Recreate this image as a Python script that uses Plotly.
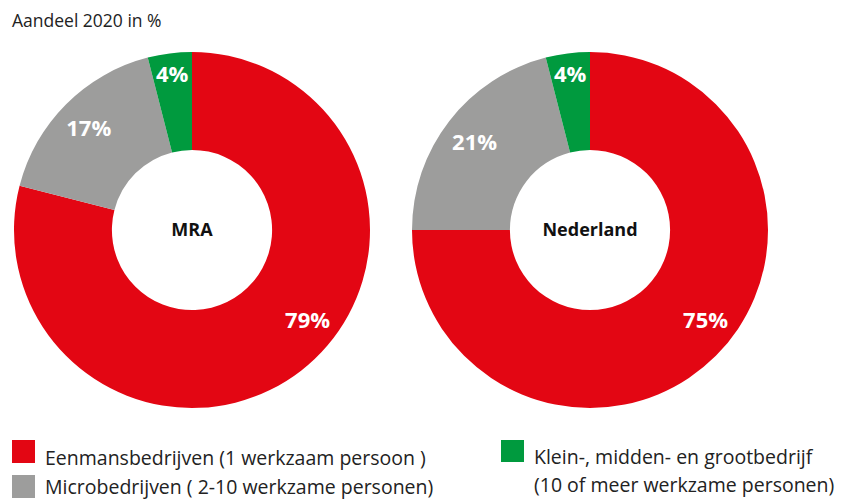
import plotly.graph_objects as go

categories = ["Eenmansbedrijven (1 werkzaam persoon )",
              "Microbedrijven ( 2-10 werkzame personen)",
              "Klein-, midden- en grootbedrijf<br>(10 of meer werkzame personen)"]
mra_values = [79, 17, 4]
nl_values = [75, 21, 4]
regions = ["MRA", "Nederland"]
colors = ["#E30613", "#9D9D9C", "#009A3E"]
title_text = "Aandeel 2020 in %"

W, H = 843, 500
FONT = "Open Sans"
LABEL_ANGLE_FIRST = 127.6  # angle (deg, clockwise from top) where the big slice label sits

fig = go.Figure()
domains = [[14 / W, 370 / W], [412 / W, 768 / W]]
ydom = [1 - 408 / H, 1 - 52 / H]
label_font = dict(family=FONT, size=22, color="white", weight="bold")
for vals, dom, name in zip([mra_values, nl_values], domains, regions):
    # coloured donut
    fig.add_trace(go.Pie(
        labels=categories, values=vals, hole=0.45, sort=False,
        direction="clockwise", rotation=0,
        marker=dict(colors=colors, line=dict(width=0)),
        textposition="none",
        domain=dict(x=dom, y=ydom), showlegend=False, hoverinfo="label+value",
        title=dict(text="<b>" + name + "</b>", position="middle center",
                   font=dict(family=FONT, size=18, color="#111111")),
    ))
    # transparent ring carrying the small-slice labels further out
    fig.add_trace(go.Pie(
        labels=categories, values=vals, hole=0.64, sort=False,
        direction="clockwise", rotation=0,
        marker=dict(colors=["rgba(0,0,0,0)"] * len(vals), line=dict(width=0)),
        texttemplate=[""] + ["%{value}%"] * (len(vals) - 1), textposition="inside",
        insidetextorientation="horizontal", textfont=label_font,
        domain=dict(x=dom, y=ydom), showlegend=False, hoverinfo="skip",
    ))
    # transparent ring carrying the big-slice label
    mid_first = 360 * vals[0] / sum(vals) / 2
    fig.add_trace(go.Pie(
        labels=categories, values=vals, hole=0.64, sort=False,
        direction="clockwise", rotation=LABEL_ANGLE_FIRST - mid_first,
        marker=dict(colors=["rgba(0,0,0,0)"] * len(vals), line=dict(width=0)),
        texttemplate=["%{value}%"] + [""] * (len(vals) - 1), textposition="inside",
        insidetextorientation="horizontal", textfont=label_font,
        domain=dict(x=dom, y=ydom), showlegend=False, hoverinfo="skip",
    ))

annotations = [dict(text=title_text, x=10 / W, y=1 - 20 / H, xref="paper", yref="paper",
                    xanchor="left", yanchor="middle", showarrow=False,
                    font=dict(family=FONT, size=17.5, color="#222222"))]
shapes = []
# (square x0, square y0, square y1, text line centres)
legend_layout = [(12, 440, 463, [457]), (12, 475, 498, [486]), (501, 440, 462, [456, 484])]
for cat, col, (sx, sy0, sy1, lines) in zip(categories, colors, legend_layout):
    shapes.append(dict(type="rect", xref="paper", yref="paper",
                       x0=sx / W, x1=(sx + 23) / W, y0=1 - sy1 / H, y1=1 - sy0 / H,
                       fillcolor=col, line=dict(width=0)))
    for part, ly in zip(cat.split("<br>"), lines):
        annotations.append(dict(text=part, x=(sx + 31) / W, y=1 - ly / H,
                                xref="paper", yref="paper", xanchor="left", yanchor="middle",
                                align="left", showarrow=False,
                                font=dict(family=FONT, size=19.5, color="#222222")))

fig.update_layout(width=W, height=H, margin=dict(l=0, r=0, t=0, b=0),
                  paper_bgcolor="white", plot_bgcolor="white",
                  annotations=annotations, shapes=shapes,
                  uniformtext=dict(minsize=22, mode="show"))
fig.write_html("out.html", config={"displayModeBar": False},
               post_script="document.body.style.margin='0';")
